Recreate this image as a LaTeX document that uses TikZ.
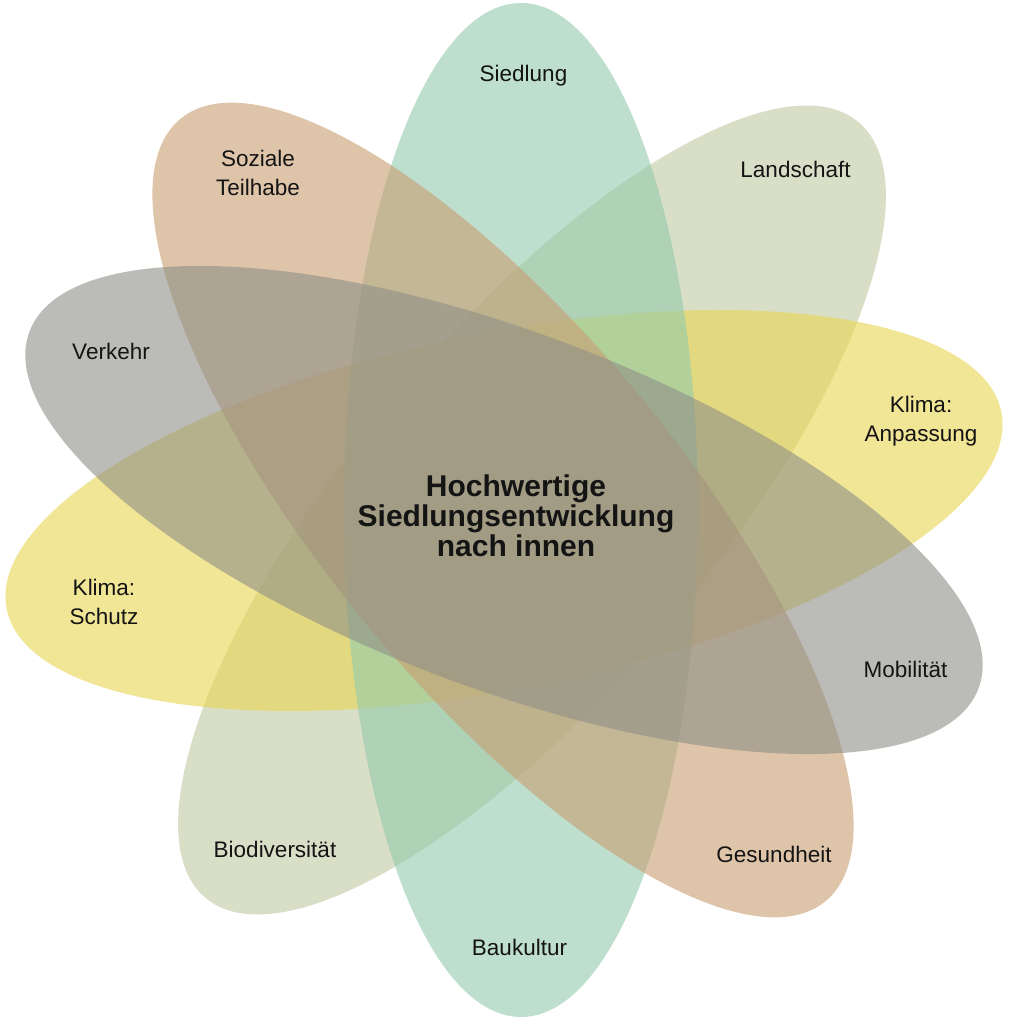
\documentclass[tikz,border=0pt]{standalone}
\usepackage{fontspec}
\setmainfont{Liberation Sans}
\definecolor{cgreen}{RGB}{147,203,173}
\definecolor{cbrown}{RGB}{200,157,113}
\definecolor{colive}{RGB}{192,200,163}
\definecolor{cyellow}{RGB}{233,213,80}
\definecolor{cgrey}{RGB}{143,143,135}
\definecolor{labelcol}{RGB}{20,20,20}
\begin{document}
\begin{tikzpicture}[x=1pt,y=1pt,
  petal/.style={fill opacity=0.6},
  lbl/.style={font=\fontsize{22.5}{29}\selectfont, text=labelcol, align=center, inner sep=0pt},
  ttl/.style={font=\fontsize{30}{30}\selectfont\bfseries, text=labelcol, align=center, inner sep=0pt}]
\fill[white] (0,0) rectangle (1024,1024);
\useasboundingbox (0,0) rectangle (1024,1024);
% petals, bottom to top
\fill[petal, colive, rotate around={49.9:(532,514)}] (532,514) ellipse [x radius=507, y radius=178];
\fill[petal, cyellow, rotate around={11.2:(504,513.5)}] (504,513.5) ellipse [x radius=507, y radius=178];
\fill[petal, cgreen, rotate around={90:(521,514)}] (521,514) ellipse [x radius=507, y radius=177];
\fill[petal, cbrown, rotate around={-50.5:(503,514)}] (503,514) ellipse [x radius=507, y radius=178];
\fill[petal, cgrey, rotate around={-20.6:(504,514)}] (504,514) ellipse [x radius=507, y radius=178];
% labels
\node[lbl, anchor=base] (siedlung) at (523.5,942) {Siedlung};
\node[lbl, anchor=base] (landschaft) at (795.5,846) {Landschaft};
\node[lbl, anchor=base] (verkehr) at (111,664) {Verkehr};
\node[lbl, anchor=base] (mobil) at (905.5,346) {Mobilität};
\node[lbl, anchor=base] (gesund) at (774,161) {Gesundheit};
\node[lbl, anchor=base] (bio) at (275,166) {Biodiversität};
\node[lbl, anchor=base] (bau) at (519.5,68) {Baukultur};
\node[lbl] (sozial) at (258,851.5) {Soziale\\Teilhabe};
\node[lbl] (anpass) at (921,602.5) {Klima:\\Anpassung};
\node[lbl] (schutz) at (104,422) {Klima:\\Schutz};
\node[ttl] (title) at (516,508) {Hochwertige\\Siedlungsentwicklung\\nach innen};
\end{tikzpicture}
\end{document}
